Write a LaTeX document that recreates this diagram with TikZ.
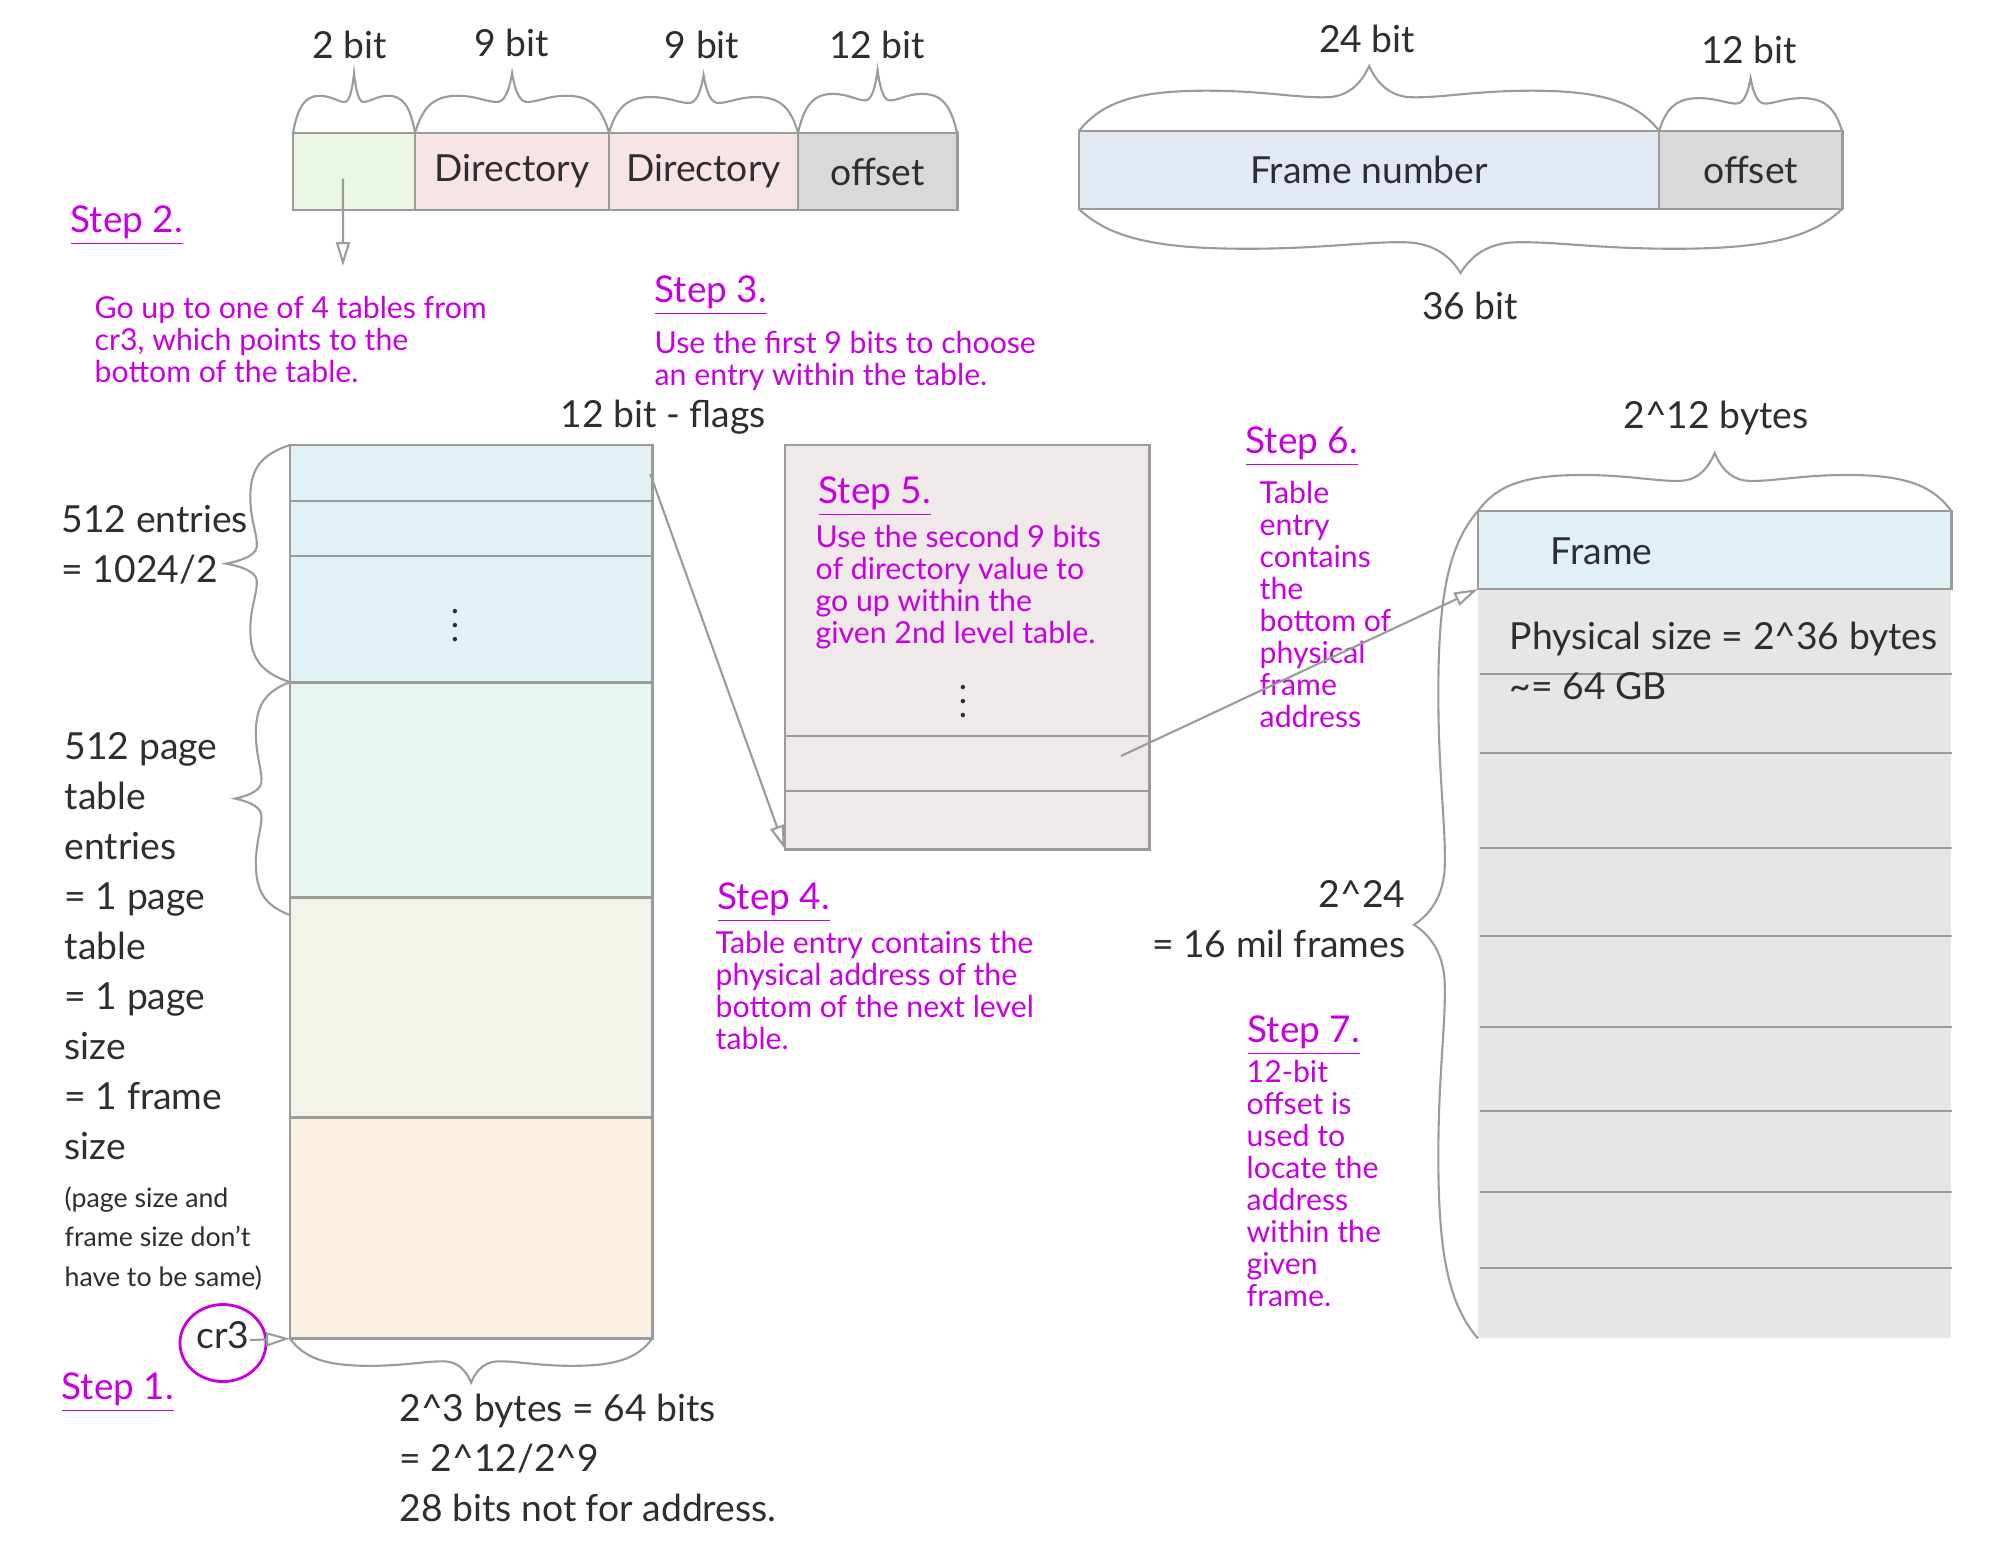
\documentclass[tikz,border=0pt]{standalone}
\usepackage{fontspec}
\setmainfont{Lato}
\usetikzlibrary{arrows.meta, calc, positioning, shapes.geometric}

\definecolor{ink}{RGB}{45,45,50}
\definecolor{stepc}{RGB}{200,0,225}
\definecolor{edge}{RGB}{155,155,155}
\definecolor{selfill}{RGB}{235,246,228}
\definecolor{dirfill}{RGB}{247,229,230}
\definecolor{offfill}{RGB}{217,217,217}
\definecolor{numfill}{RGB}{226,233,245}
\definecolor{pdfill}{RGB}{226,241,245}
\definecolor{ptfill}{RGB}{232,245,243}
\definecolor{tabfill}{RGB}{243,243,233}
\definecolor{lofill}{RGB}{251,239,226}
\definecolor{midfill}{RGB}{239,233,233}
\definecolor{frmfill}{RGB}{225,240,245}
\definecolor{memfill}{RGB}{232,230,229}

\newcommand{\fbig}{\fontsize{10.6}{14.2}\selectfont}
\newcommand{\fsmall}{\fontsize{7.6}{11.2}\selectfont}
\newcommand{\fhead}{\fontsize{10.5}{12}\selectfont}
\newcommand{\fbody}{\fontsize{8.6}{9.1}\selectfont}

\tikzset{
  cell/.style    = {rectangle, draw=edge, line width=0.8pt, anchor=north west,
                    inner sep=0pt, outer sep=0pt, text=ink, font=\fbig},
  txt/.style     = {text=ink, font=\fbig, inner sep=0pt, align=left},
  small/.style   = {text=ink, font=\fsmall, inner sep=0pt, align=left},
  head/.style    = {text=stepc, font=\fhead, inner sep=0pt},
  body/.style    = {text=stepc, font=\fbody, inner sep=0pt, align=left},
  ring/.style    = {ellipse, draw=stepc, line width=0.8pt, minimum width=0.86cm,
                    minimum height=0.77cm, inner sep=0pt, text=ink, font=\fbig},
  rowline/.style = {draw=edge, line width=0.6pt},
  bracket/.style = {draw=edge, line width=0.6pt},
  link/.style    = {draw=edge, line width=0.6pt,
                    -{Triangle[open, length=6.8pt, width=4pt]}}
}

% curly brace from #1 to #2, bulging to the left of the way, height #3
\newcommand{\curly}[3]{%
  \draw[bracket] (#1)
    .. controls ($(#1)!0.04!(#2)!{0.45*#3}!90:(#2)$) and ($(#1)!0.10!(#2)!{0.62*#3}!90:(#2)$)
    .. ($(#1)!0.22!(#2)!{0.62*#3}!90:(#2)$)
    .. controls ($(#1)!0.32!(#2)!{0.62*#3}!90:(#2)$) and ($(#1)!0.38!(#2)!{0.50*#3}!90:(#2)$)
    .. ($(#1)!0.43!(#2)!{0.52*#3}!90:(#2)$)
    .. controls ($(#1)!0.47!(#2)!{0.54*#3}!90:(#2)$) and ($(#1)!0.49!(#2)!{0.80*#3}!90:(#2)$)
    .. ($(#1)!0.5!(#2)!{#3}!90:(#2)$)
    .. controls ($(#1)!0.51!(#2)!{0.80*#3}!90:(#2)$) and ($(#1)!0.53!(#2)!{0.54*#3}!90:(#2)$)
    .. ($(#1)!0.57!(#2)!{0.52*#3}!90:(#2)$)
    .. controls ($(#1)!0.62!(#2)!{0.50*#3}!90:(#2)$) and ($(#1)!0.68!(#2)!{0.62*#3}!90:(#2)$)
    .. ($(#1)!0.78!(#2)!{0.62*#3}!90:(#2)$)
    .. controls ($(#1)!0.90!(#2)!{0.62*#3}!90:(#2)$) and ($(#1)!0.96!(#2)!{0.45*#3}!90:(#2)$)
    .. (#2);
}

\begin{document}
\begin{tikzpicture}[x=0.01cm, y=-0.01cm]
  \useasboundingbox (0,0) rectangle (1998,1554);

  % virtual address
  \node (sel)  [cell, fill=selfill, minimum width=1.22cm, minimum height=0.77cm] at (293,133) {};
  \node (dir1) [cell, fill=dirfill, minimum width=1.94cm, minimum height=0.77cm] at (415,133) {Directory};
  \node (dir2) [cell, fill=dirfill, minimum width=1.89cm, minimum height=0.77cm] at (609,133) {Directory};
  \node (off1) [cell, fill=offfill, minimum width=1.59cm, minimum height=0.77cm] at (798,133) {offset};

  \node (b1) [txt, anchor=base] at (350,58) {2 bit};
  \node (b2) [txt, anchor=base] at (512,56) {9 bit};
  \node (b3) [txt, anchor=base] at (702,58) {9 bit};
  \node (b4) [txt, anchor=base] at (877,58) {12 bit};

  \curly{sel.north west}{sel.north east}{0.60cm}
  \curly{dir1.north west}{dir1.north east}{0.60cm}
  \curly{dir2.north west}{dir2.north east}{0.58cm}
  \curly{off1.north west}{off1.north east}{0.63cm}

  % physical address
  \node (fnum) [cell, fill=numfill, minimum width=5.80cm, minimum height=0.78cm] at (1079,131) {Frame number};
  \node (off2) [cell, fill=offfill, minimum width=1.83cm, minimum height=0.78cm] at (1659,131) {offset};

  \node (b24) [txt, anchor=base] at (1367,52) {24 bit};
  \node (b12) [txt, anchor=base] at (1749,63) {12 bit};
  \node (b36) [txt, anchor=base] at (1470,319) {36 bit};

  \curly{fnum.north west}{fnum.north east}{0.65cm}
  \curly{off2.north west}{off2.north east}{0.53cm}
  \curly{off2.south east}{fnum.south west}{0.64cm}

  % page directory
  \node (pt1) [cell, fill=pdfill, minimum width=3.62cm, minimum height=2.37cm] at (290,445) {};
  \node (pt2) [cell, fill=ptfill, minimum width=3.62cm, minimum height=2.15cm, below=0pt of pt1] {};
  \node (pt3) [cell, fill=tabfill, minimum width=3.62cm, minimum height=2.20cm, below=0pt of pt2] {};
  \node (pt4) [cell, fill=lofill, minimum width=3.62cm, minimum height=2.21cm, below=0pt of pt3] {};
  \foreach \y in {501,556}
    \draw[rowline] (291,\y) -- (652,\y);
  \node (dots1) [text=ink] at (455,615) {$\vdots$};

  \node (flags) [txt, anchor=base] at (663,427) {12 bit - flags};

  \curly{pt1.south west}{pt1.north west}{0.64cm}
  \curly{290,915}{pt2.north west}{0.55cm}
  \curly{pt4.south east}{pt4.south west}{0.44cm}

  % anchor=base is the last line of each block
  \node (ent)   [txt, anchor=base west] at (61,582) {512 entries\\= 1024/2};
  \node (pte)   [txt, anchor=base west] at (64,1159)
    {512 page\\table\\entries\\= 1 page\\table\\= 1 page\\size\\= 1 frame\\size};
  \node (pnote) [small, anchor=base west] at (64,1286)
    {(page size and\\frame size don’t\\have to be same)};
  \node (bot)   [txt, anchor=base west] at (399,1521)
    {2\textasciicircum3 bytes = 64 bits\\= 2\textasciicircum12/2\textasciicircum9\\28 bits not for address.};

  \node (cr3) [ring, text depth=0.16cm] at (223,1343) {cr3};

  % second level table
  \node (mid) [cell, fill=midfill, minimum width=3.64cm, minimum height=4.04cm] at (785,445) {};
  \foreach \y in {736,791}
    \draw[rowline] (786,\y) -- (1148,\y);
  \node (dots2) [text=ink] at (963,691) {$\vdots$};

  % physical memory
  \node (mem)   [cell, draw=none, fill=memfill, minimum width=4.73cm, minimum height=7.49cm] at (1478,589) {};
  \node (frame) [cell, fill=frmfill, minimum width=4.73cm, minimum height=0.78cm, above=0pt of mem] {};
  \foreach \y in {674,753,848,936,1027,1111,1192,1268}
    \draw[rowline] (1480,\y) -- (1952,\y);

  \node (frtxt) [txt, anchor=base west] at (1550,564) {Frame};
  \node (phys)  [txt, anchor=base west] at (1509,699)
    {Physical size = 2\textasciicircum36 bytes\\\textasciitilde= 64 GB};
  \node (b4k)   [txt, anchor=base] at (1716,428) {2\textasciicircum12 bytes};
  \node (nfr)   [txt, align=right, anchor=base east] at (1406,957)
    {2\textasciicircum24\\= 16 mil frames};

  \curly{frame.north west}{frame.north east}{0.58cm}
  \curly{mem.south west}{frame.north west}{0.64cm}

  % steps
  \node (s1h) [head, anchor=base west] at (61,1399) {\underline{Step 1.}};
  \node (s2h) [head, anchor=base west] at (70,232) {\underline{Step 2.}};
  \node (s2b) [body, anchor=base west] at (94,382)
    {Go up to one of 4 tables from\\cr3, which points to the\\bottom of the table.};
  \node (s3h) [head, anchor=base west] at (654,302) {\underline{Step 3.}};
  \node (s3b) [body, anchor=base west] at (654,385)
    {Use the first 9 bits to choose\\an entry within the table.};
  \node (s4h) [head, anchor=base west] at (717,909) {\underline{Step 4.}};
  \node (s4b) [body, anchor=base west] at (715,1049)
    {Table entry contains the\\physical address of the\\bottom of the next level\\table.};
  \node (s5h) [head, anchor=base west] at (818,503) {\underline{Step 5.}};
  \node (s5b) [body, anchor=base west] at (815,643)
    {Use the second 9 bits\\of directory value to\\go up within the\\given 2nd level table.};
  \node (s6h) [head, anchor=base west] at (1245,453) {\underline{Step 6.}};
  \node (s6b) [body, anchor=base west] at (1259,727)
    {Table\\entry\\contains\\the\\bottom of\\physical\\frame\\address};
  \node (s7h) [head, anchor=base west] at (1247,1042) {\underline{Step 7.}};
  \node (s7b) [body, anchor=base west] at (1246,1306)
    {12-bit\\offset is\\used to\\locate the\\address\\within the\\given\\frame.};

  % arrows
  \coordinate (tabs) at (343,266);
  \coordinate (m5) at (1121,756);
  \draw[link] ([xshift=-0.11cm, yshift=-0.07cm]sel.center) -- (tabs);
  \draw[link] ([xshift=0.27cm, yshift=0.03cm]cr3.center) -- (pt4.south west);
  \draw[link] ([xshift=-0.02cm, yshift=-0.29cm]pt1.north east) -- (mid.south west);
  \draw[link] (m5) -- (frame.south west);
\end{tikzpicture}
\end{document}
